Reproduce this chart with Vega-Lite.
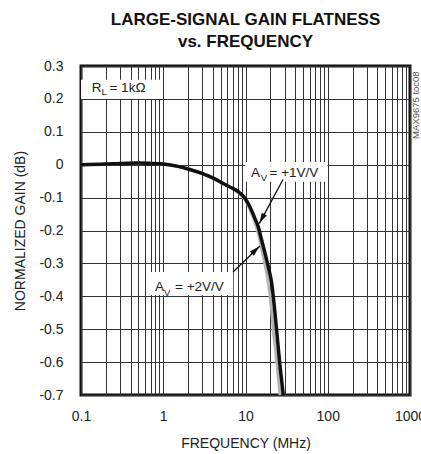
{
  "$schema": "https://vega.github.io/schema/vega-lite/v6.json",
  "width": 329,
  "height": 329,
  "autosize": {"type": "none"},
  "padding": {"left": 81, "top": 66, "right": 11, "bottom": 59},
  "background": "white",
  "title": {
    "text": ["LARGE-SIGNAL GAIN FLATNESS", "vs. FREQUENCY"],
    "font": "Liberation Sans",
    "fontSize": 17,
    "fontWeight": "bold",
    "lineHeight": 22,
    "anchor": "middle",
    "offset": 8,
    "color": "#111"
  },
  "config": {
    "font": "Liberation Sans",
    "view": {"stroke": "#111", "strokeWidth": 3}
  },
  "datasets": {
    "curves": [
      {"f": 0.1, "v": 0.0, "s": "+2"},
      {"f": 0.2, "v": 0.002, "s": "+2"},
      {"f": 0.3, "v": 0.004, "s": "+2"},
      {"f": 0.5, "v": 0.005, "s": "+2"},
      {"f": 0.7, "v": 0.004, "s": "+2"},
      {"f": 1, "v": 0.002, "s": "+2"},
      {"f": 1.5, "v": -0.005, "s": "+2"},
      {"f": 2, "v": -0.013, "s": "+2"},
      {"f": 3, "v": -0.027, "s": "+2"},
      {"f": 4, "v": -0.04, "s": "+2"},
      {"f": 5.63, "v": -0.06, "s": "+2"},
      {"f": 7, "v": -0.073, "s": "+2"},
      {"f": 8.17, "v": -0.085, "s": "+2"},
      {"f": 9.86, "v": -0.106, "s": "+2"},
      {"f": 11.3, "v": -0.135, "s": "+2"},
      {"f": 13, "v": -0.175, "s": "+2"},
      {"f": 14.3, "v": -0.21, "s": "+2"},
      {"f": 15.7, "v": -0.255, "s": "+2"},
      {"f": 17.3, "v": -0.305, "s": "+2"},
      {"f": 18.9, "v": -0.36, "s": "+2"},
      {"f": 20.5, "v": -0.43, "s": "+2"},
      {"f": 21.8, "v": -0.503, "s": "+2"},
      {"f": 24, "v": -0.6, "s": "+2"},
      {"f": 26.3, "v": -0.7, "s": "+2"},
      {"f": 0.1, "v": 0.0, "s": "+1"},
      {"f": 0.2, "v": 0.002, "s": "+1"},
      {"f": 0.3, "v": 0.004, "s": "+1"},
      {"f": 0.5, "v": 0.005, "s": "+1"},
      {"f": 0.7, "v": 0.004, "s": "+1"},
      {"f": 1, "v": 0.002, "s": "+1"},
      {"f": 1.5, "v": -0.005, "s": "+1"},
      {"f": 2, "v": -0.013, "s": "+1"},
      {"f": 3, "v": -0.027, "s": "+1"},
      {"f": 4, "v": -0.04, "s": "+1"},
      {"f": 5.63, "v": -0.06, "s": "+1"},
      {"f": 7, "v": -0.072, "s": "+1"},
      {"f": 8.17, "v": -0.082, "s": "+1"},
      {"f": 9.86, "v": -0.102, "s": "+1"},
      {"f": 11.3, "v": -0.128, "s": "+1"},
      {"f": 13, "v": -0.163, "s": "+1"},
      {"f": 14.3, "v": -0.189, "s": "+1"},
      {"f": 15.7, "v": -0.229, "s": "+1"},
      {"f": 17.3, "v": -0.27, "s": "+1"},
      {"f": 18.9, "v": -0.31, "s": "+1"},
      {"f": 20.8, "v": -0.36, "s": "+1"},
      {"f": 23.9, "v": -0.503, "s": "+1"},
      {"f": 26, "v": -0.6, "s": "+1"},
      {"f": 28.8, "v": -0.7, "s": "+1"}
    ],
    "boxes": [
      {"f": 0.1, "f2": 0.97, "v": 0.2, "v2": 0.258},
      {"f": 9.9, "f2": 99, "v": 0.008, "v2": -0.052},
      {"f": 0.69, "f2": 7.1, "v": -0.326, "v2": -0.396}
    ],
    "arrows": [
      {"f": 28.6, "v": -0.045, "f2": 14.7, "v2": -0.179},
      {"f": 7.05, "v": -0.326, "f2": 15.0, "v2": -0.247}
    ],
    "bigtext": [
      {"f": 0.135, "v": 0.221, "t": "R"},
      {"f": 0.222, "v": 0.221, "t": "= 1kΩ"},
      {"f": 11.7, "v": -0.038, "t": "A"},
      {"f": 19.6, "v": -0.038, "t": "= +1V/V"},
      {"f": 0.795, "v": -0.385, "t": "A"},
      {"f": 1.39, "v": -0.385, "t": "= +2V/V"}
    ],
    "subtext": [
      {"f": 0.177, "v": 0.212, "t": "L"},
      {"f": 15.3, "v": -0.05, "t": "V"},
      {"f": 1.02, "v": -0.399, "t": "V"}
    ]
  },
  "encoding": {
    "x": {
      "field": "f",
      "type": "quantitative",
      "scale": {"type": "log", "domain": [0.1, 1000], "nice": false},
      "axis": {
        "values": [0.1, 0.2, 0.3, 0.4, 0.5, 0.6, 0.7, 0.8, 0.9, 1, 2, 3, 4, 5, 6, 7, 8, 9, 10, 20, 30, 40, 50, 60, 70, 80, 90, 100, 200, 300, 400, 500, 600, 700, 800, 900, 1000],
        "labelExpr": "datum.value == 0.1 || datum.value == 1 || datum.value == 10 || datum.value == 100 || datum.value == 1000 ? datum.value : ''",
        "title": "FREQUENCY (MHz)",
        "grid": true,
        "gridColor": "#333",
        "gridWidth": 1,
        "ticks": false,
        "tickSize": 0,
        "domain": false,
        "labelPadding": 14,
        "labelFontSize": 14,
        "labelColor": "#222",
        "labelOverlap": false,
        "labelFlush": false,
        "labelBound": false,
        "titleFontSize": 14,
        "titleFontWeight": "normal",
        "titleColor": "#222",
        "titleX": 164.5,
        "titleY": 48,
        "titleBaseline": "middle"
      }
    },
    "y": {
      "field": "v",
      "type": "quantitative",
      "scale": {"domain": [-0.7, 0.3], "nice": false, "zero": false},
      "axis": {
        "values": [-0.7, -0.6, -0.5, -0.4, -0.3, -0.2, -0.1, 0, 0.1, 0.2, 0.3],
        "labelExpr": "replace(format(datum.value, '.1~f'), '−', '-')",
        "title": "NORMALIZED GAIN (dB)",
        "grid": true,
        "gridColor": "#333",
        "gridWidth": 1,
        "ticks": false,
        "tickSize": 0,
        "domain": false,
        "labelPadding": 18,
        "labelFontSize": 14,
        "labelColor": "#222",
        "labelOverlap": false,
        "titleFontSize": 14,
        "titleFontWeight": "normal",
        "titleColor": "#222",
        "titleX": -61,
        "titleY": 164.5,
        "titleAngle": -90,
        "titleAlign": "center",
        "titleBaseline": "middle"
      }
    }
  },
  "layer": [
    {
      "data": {"name": "boxes"},
      "mark": {"type": "rect", "fill": "white"},
      "encoding": {"x2": {"field": "f2"}, "y2": {"field": "v2"}}
    },
    {
      "data": {"name": "curves"},
      "transform": [{"filter": "datum.s == '+2'"}],
      "mark": {"type": "line", "color": "#b4b4b4", "strokeWidth": 3, "interpolate": "monotone"}
    },
    {
      "data": {"name": "curves"},
      "transform": [{"filter": "datum.s == '+1'"}],
      "mark": {"type": "line", "color": "#111", "strokeWidth": 3.5, "interpolate": "monotone"}
    },
    {
      "data": {"name": "arrows"},
      "mark": {"type": "rule", "color": "#111", "strokeWidth": 1.3},
      "encoding": {"x2": {"field": "f2"}, "y2": {"field": "v2"}}
    },
    {
      "data": {"values": [{"f": 15.8, "v": -0.164}]},
      "mark": {"type": "point", "shape": "M0,-1L0.55,1L-0.55,1Z", "filled": true, "color": "#111", "size": 110, "angle": 208.6, "opacity": 1}
    },
    {
      "data": {"values": [{"f": 13.3, "v": -0.259}]},
      "mark": {"type": "point", "shape": "M0,-1L0.55,1L-0.55,1Z", "filled": true, "color": "#111", "size": 110, "angle": 46, "opacity": 1}
    },
    {
      "data": {"name": "bigtext"},
      "mark": {"type": "text", "align": "left", "baseline": "alphabetic", "fontSize": 13.5, "color": "#222"},
      "encoding": {"text": {"field": "t"}}
    },
    {
      "data": {"name": "subtext"},
      "mark": {"type": "text", "align": "left", "baseline": "alphabetic", "fontSize": 9.5, "color": "#222"},
      "encoding": {"text": {"field": "t"}}
    },
    {
      "data": {"values": [{"f": 1171, "v": 0.181, "t": "MAX9675 toc08"}]},
      "mark": {"type": "text", "align": "center", "baseline": "middle", "angle": 270, "fontSize": 9.5, "color": "#555"},
      "encoding": {"text": {"field": "t"}}
    }
  ]
}
